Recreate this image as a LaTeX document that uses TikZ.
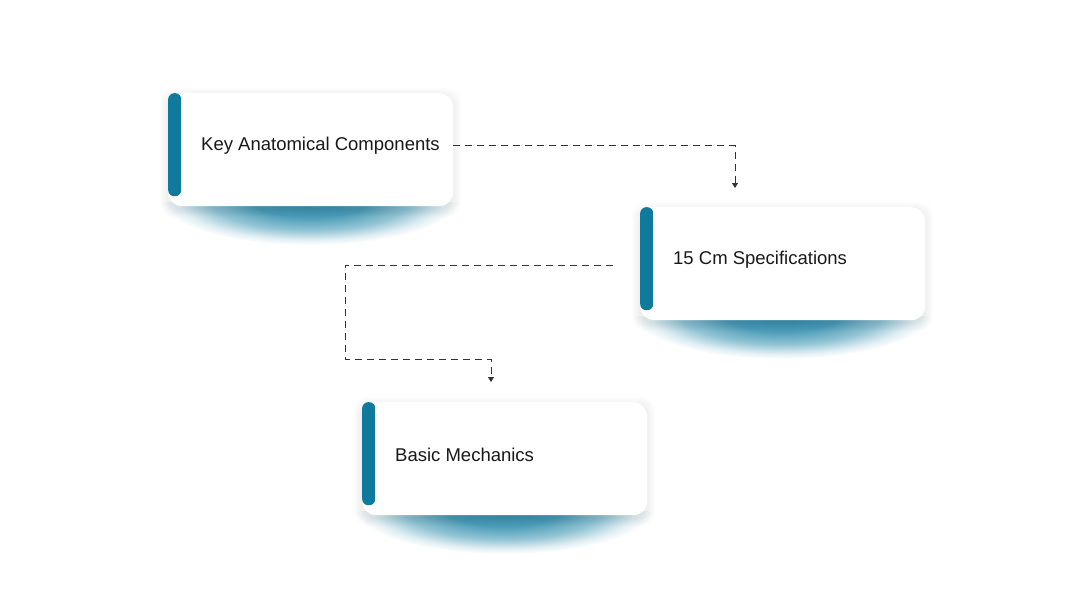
\documentclass[tikz,border=0pt]{standalone}
\usepackage{fontspec}
\setmainfont{Liberation Sans}
\usetikzlibrary{arrows.meta,positioning}
\definecolor{barteal}{RGB}{16,122,156}
\definecolor{glowteal}{RGB}{30,132,166}
\pgfdeclareradialshading{glow}{\pgfpoint{0bp}{0bp}}{color(0bp)=(glowteal!90!white); color(10bp)=(glowteal!80!white); color(17bp)=(glowteal!48!white); color(22bp)=(glowteal!14!white); color(25bp)=(white); color(50bp)=(white)}
\begin{document}
\begin{tikzpicture}[x=1pt,y=-1pt,
	card/.style={fill=white,rounded corners=14pt,minimum width=285pt,minimum height=113pt,inner sep=0pt,anchor=north west},
	bar/.style={fill=barteal,rounded corners=6pt,minimum width=13pt,minimum height=103pt,inner sep=0pt,anchor=north west},
	cardtext/.style={font=\fontsize{18.5}{22}\selectfont,text=black!90,inner sep=0pt,anchor=west},
	link/.style={draw=black!80,line width=0.8pt,dash pattern=on 7pt off 5pt,-{Triangle[length=5pt,width=6pt]}}]
	\useasboundingbox[fill=white] (0,0) rectangle (1080,608);
	\foreach \n/\x/\y/\txt in {key/168/93/Key Anatomical Components,spec/640/207/15 Cm Specifications,mech/362/402/Basic Mechanics}{
		\begin{scope}
			\clip (\x-40,\y+109) rectangle (\x+325,\y+170);
			\shade[shading=glow] (\x+142,\y+106) ellipse (150 and 46);
		\end{scope}
		\foreach \k in {1,...,8}
			\fill[black,opacity=0.006,rounded corners=14pt] (\x-\k,\y-\k+3) rectangle (\x+285+\k,\y+113+\k+3);
		\node[card] (\n-card) at (\x,\y) {};
		\node[bar] (\n-bar) at (\x,\y) {};
		\node[cardtext] (\n) at (\x+33,\y+53) {\txt};
	}
	\coordinate (key-end) at (735,188);
	\coordinate (spec-turn) at (345,359);
	\coordinate (mech-end) at (491,382);
	\draw[link] ([yshift=4.5pt]key-card.east) -| (key-end);
	\draw[link] ([xshift=-27pt,yshift=-1.5pt]spec-card.west) -| (spec-turn) -| (mech-end);
\end{tikzpicture}
\end{document}
